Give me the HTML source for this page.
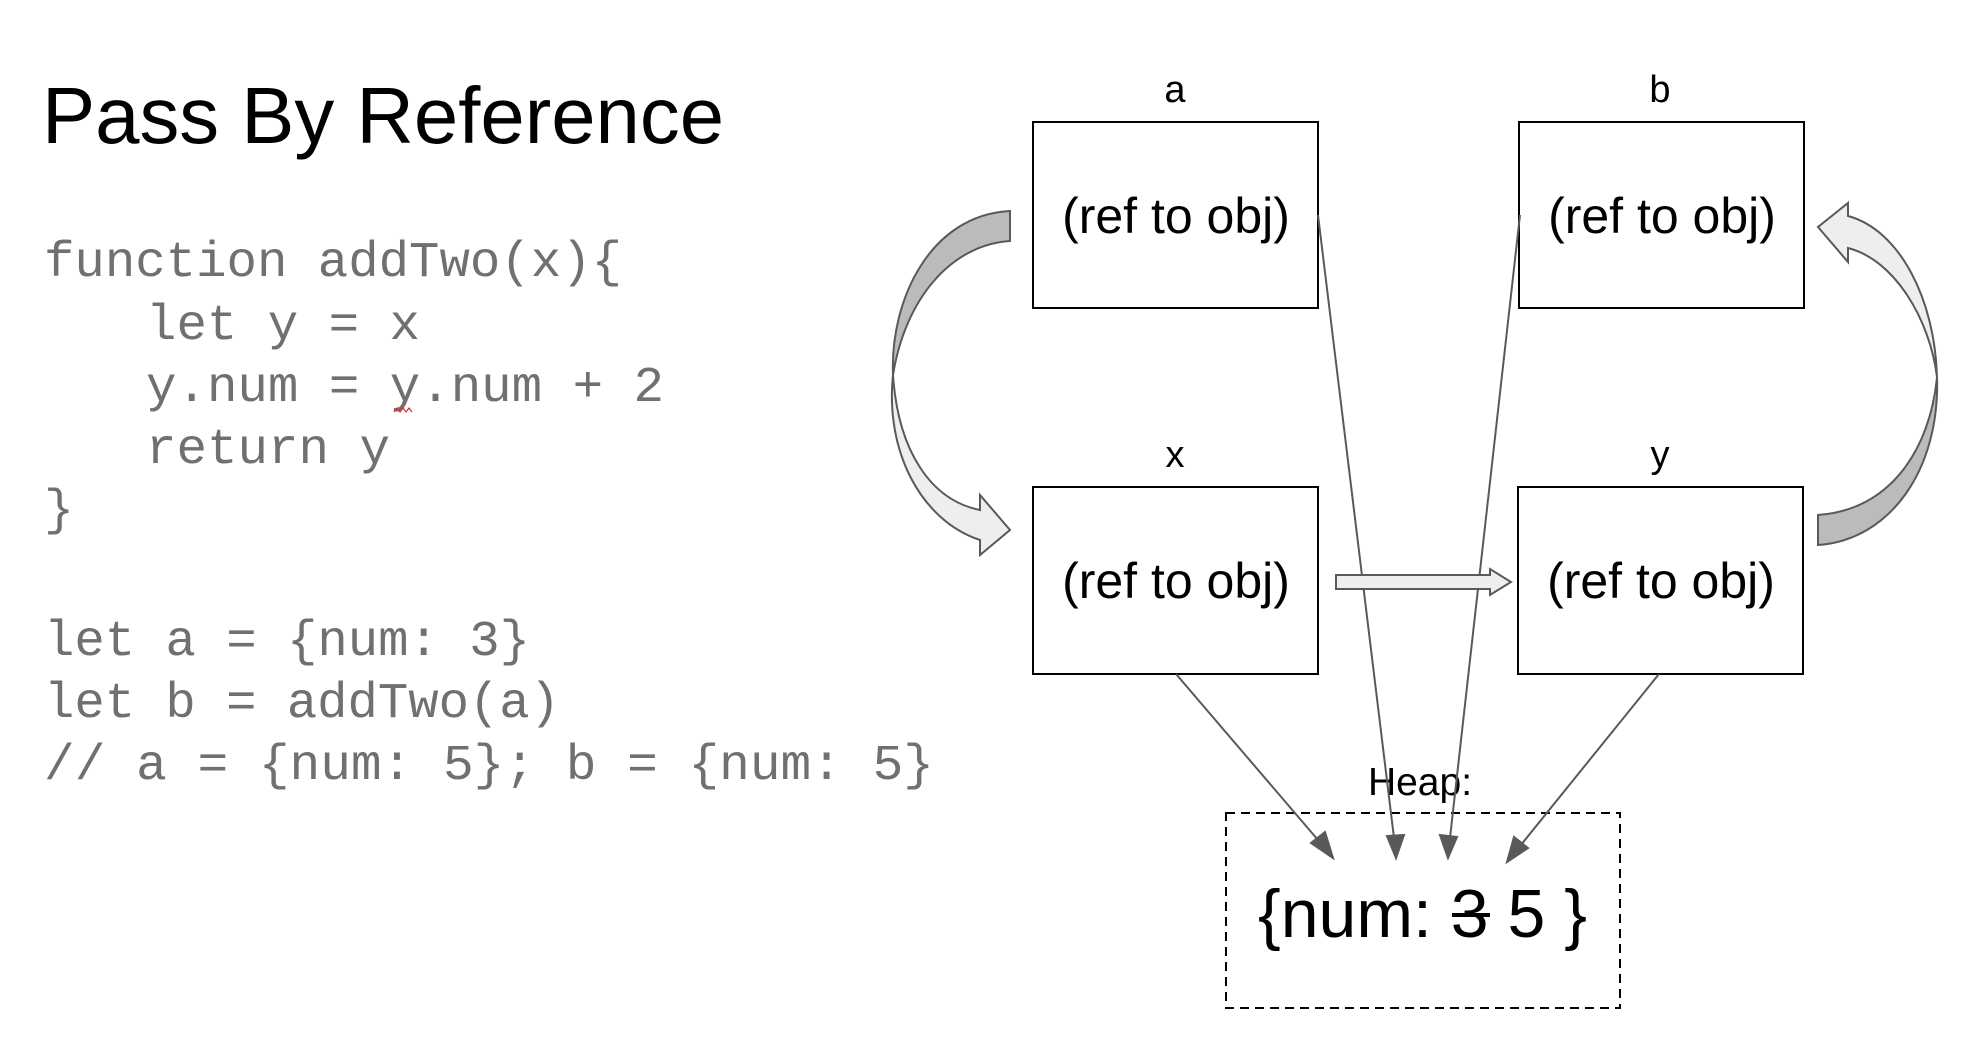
<!DOCTYPE html>
<html><head><meta charset="utf-8"><style>
html,body{margin:0;padding:0;background:#fff;}
svg{display:block;}
</style></head><body>
<svg width="1970" height="1054" viewBox="0 0 1970 1054" xmlns="http://www.w3.org/2000/svg">
<text x="42" y="143" font-family="Liberation Sans, sans-serif" font-size="80" fill="#000" textLength="682" lengthAdjust="spacingAndGlyphs">Pass By Reference</text>
<g font-family="Liberation Mono, monospace" font-size="50" fill="#707070">
<text x="44" y="276" textLength="578" lengthAdjust="spacingAndGlyphs">function addTwo(x){</text>
<text x="146" y="339" textLength="274" lengthAdjust="spacingAndGlyphs">let y = x</text>
<text x="146" y="401" textLength="518" lengthAdjust="spacingAndGlyphs">y.num = y.num + 2</text>
<text x="146" y="463" textLength="244" lengthAdjust="spacingAndGlyphs">return y</text>
<text x="44" y="524">}</text>
<text x="44" y="655" textLength="486" lengthAdjust="spacingAndGlyphs">let a = {num: 3}</text>
<text x="44" y="717" textLength="516" lengthAdjust="spacingAndGlyphs">let b = addTwo(a)</text>
<text x="44" y="779" textLength="890" lengthAdjust="spacingAndGlyphs">// a = {num: 5}; b = {num: 5}</text>
</g>
<path d="M394 412 l3 -4 l3 4 l3 -4 l3 4 l3 -4 l3 4" stroke="#d33" stroke-width="1.2" fill="none"/>

<g fill="#fff" stroke="#000" stroke-width="2">
<rect x="1033" y="122" width="285" height="186"/>
<rect x="1519" y="122" width="285" height="186"/>
<rect x="1033" y="487" width="285" height="187"/>
<rect x="1518" y="487" width="285" height="187"/>
</g>
<g font-family="Liberation Sans, sans-serif" font-size="38" fill="#000" text-anchor="middle">
<text x="1175" y="102">a</text>
<text x="1660" y="102">b</text>
<text x="1175" y="467">x</text>
<text x="1660" y="467">y</text>
</g>
<g font-family="Liberation Sans, sans-serif" font-size="50" fill="#000" text-anchor="middle">
<text x="1176" y="233">(ref to obj)</text>
<text x="1662" y="233">(ref to obj)</text>
<text x="1176" y="598">(ref to obj)</text>
<text x="1661" y="598">(ref to obj)</text>
</g>

<rect x="1226" y="813" width="394" height="195" fill="none" stroke="#000" stroke-width="2" stroke-dasharray="9,6"/>
<text x="1420" y="795" font-family="Liberation Sans, sans-serif" font-size="39" text-anchor="middle">Heap:</text>
<text x="1258" y="937" font-family="Liberation Sans, sans-serif" font-size="68">{num: 3 5 }</text>
<line x1="1452" y1="915" x2="1490" y2="915" stroke="#000" stroke-width="4"/>

<g stroke="#595959" stroke-width="2" fill="#595959">
<line x1="1176" y1="674" x2="1324" y2="847"/>
<polygon points="1333,858 1311,843 1325,832"/>
<line x1="1318" y1="215" x2="1394" y2="838"/>
<polygon points="1396,858 1387,836 1404,835"/>
<line x1="1520" y1="215" x2="1450" y2="838"/>
<polygon points="1448,858 1440,835 1457,837"/>
<line x1="1659" y1="674" x2="1516" y2="851"/>
<polygon points="1507,862 1514,837 1528,848"/>
</g>

<polygon points="1336,575 1490,575 1490,569 1511,582 1490,595 1490,589 1336,589" fill="#eee" stroke="#595959" stroke-width="2"/>

<path d="M1010,211 L1010,241 C950,245 905,300 893,375 C890,300 930,215 1010,211 Z" fill="#bbb" stroke="#595959" stroke-width="2"/>
<path d="M893,375 C898,450 930,500 980,510 L980,495 L1010,530 L980,555 L980,540 C920,520 885,450 893,375 Z" fill="#eee" stroke="#595959" stroke-width="2"/>

<path d="M1818,515 L1818,545 C1890,540 1940,470 1937,377 C1930,450 1890,510 1818,515 Z" fill="#bbb" stroke="#595959" stroke-width="2"/>
<path d="M1937,377 C1935,300 1900,230 1848,216 L1848,203 L1818,227 L1848,262 L1848,248 C1895,260 1930,320 1937,377 Z" fill="#eee" stroke="#595959" stroke-width="2"/>
</svg>
</body></html>
